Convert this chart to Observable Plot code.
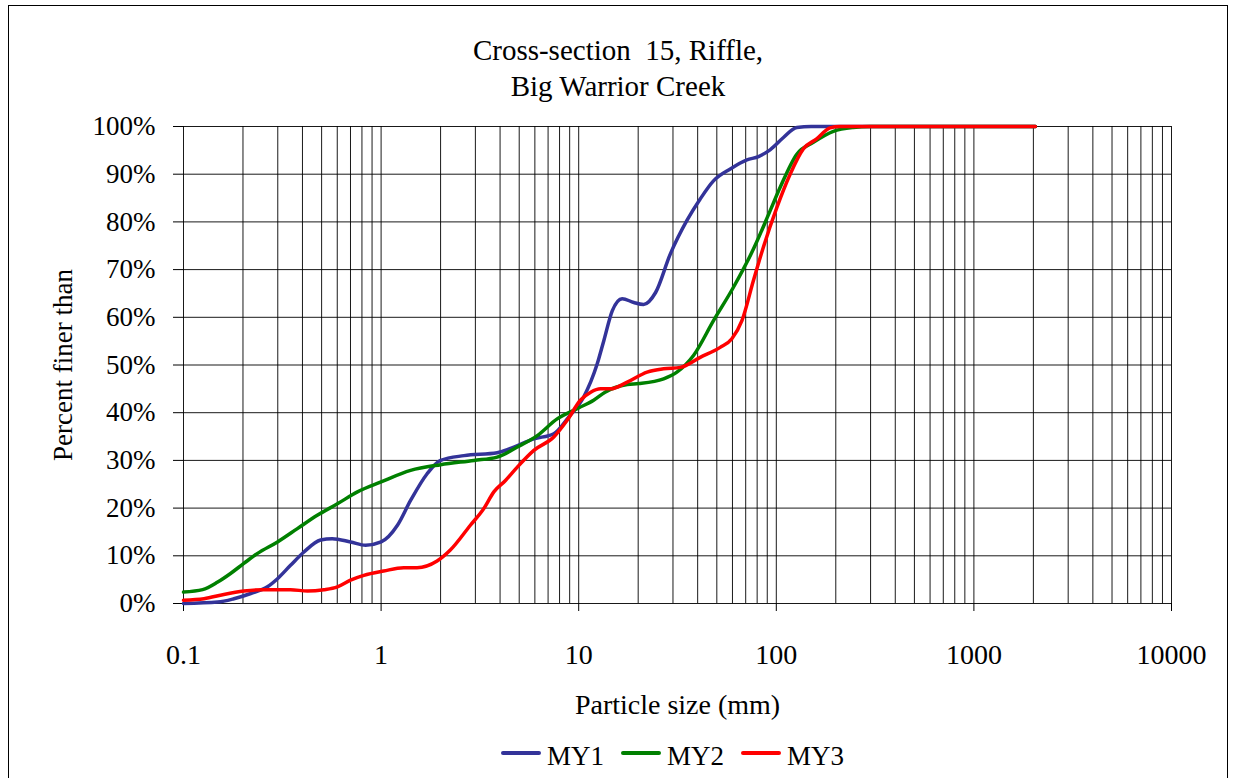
<!DOCTYPE html>
<html><head><meta charset="utf-8">
<script src="https://cdn.jsdelivr.net/npm/d3@7"></script>
<script src="https://cdn.jsdelivr.net/npm/@observablehq/plot@0.6"></script>
<style>
body{margin:0;background:#fff;font-family:"Liberation Serif","Times New Roman",serif;}
#wrap{position:relative;width:1236px;height:778px;overflow:hidden;background:#fff}
#frame{position:absolute;left:8px;top:5px;width:1220px;height:800px;border:1px solid #000;box-sizing:border-box}
#title{position:absolute;left:0;top:32px;width:1236px;text-align:center;font-size:29px;line-height:36px;color:#000}
#chart{position:absolute;left:0;top:100px}
#legend{position:absolute;left:501px;top:736px;display:flex;align-items:center;font-size:27px;height:40px;color:#000}
.item{display:flex;align-items:center;margin-right:17px}
.sw{width:40px;height:4px;margin-right:6px;border-radius:2px;position:relative;top:-3px}
</style></head><body>
<div id="wrap"><div id="frame"></div><div id="title">Cross-section&nbsp; 15, Riffle,<br>Big Warrior Creek</div><div id="chart"></div><div id="legend"></div></div>
<script>
const seriesNames = ["MY1", "MY2", "MY3"];
const seriesColors = ["#333399", "#008000", "#ff0000"];

const my1Size = [0.1, 0.149, 0.18, 0.219, 0.266, 0.299, 0.348, 0.407, 0.494, 0.566, 0.701, 0.835, 1.0, 1.21, 1.41, 1.71, 2.0, 2.63, 3.87, 4.52, 5.93, 7.48, 8.9, 10.6, 12.4, 13.4, 14.8, 16.6, 19.0, 21.3, 24.5, 29.1, 35.3, 41.2, 48.1, 58.5, 71, 81.3, 93, 108.7, 127, 150, 2048];
const my1Pct  = [0, 0.3, 1.0, 2.1, 3.5, 5.2, 8.0, 10.8, 13.3, 13.6, 12.9, 12.2, 12.9, 16.4, 21.6, 27.2, 30.0, 31.0, 31.6, 32.5, 34.5, 35.6, 39.1, 43.3, 50.2, 55.1, 61.4, 63.9, 63.1, 62.7, 65.2, 73.3, 80.3, 84.8, 88.6, 91.1, 93.0, 93.7, 95.1, 97.7, 99.8, 100, 100];

const my2Size = [0.1, 0.125, 0.149, 0.173, 0.202, 0.237, 0.299, 0.377, 0.475, 0.601, 0.759, 1.0, 1.41, 2.0, 2.95, 3.87, 4.89, 6.17, 7.78, 10, 11.9, 13.6, 17.6, 20.1, 26.9, 31.4, 38.1, 48.1, 60.7, 76.6, 93, 104.5, 127, 154, 194.5, 245, 300, 2048];
const my2Pct  = [2.4, 2.9, 4.5, 6.3, 8.4, 10.5, 12.9, 15.7, 18.5, 20.9, 23.4, 25.5, 27.9, 29.1, 30.0, 30.7, 32.8, 35.2, 38.7, 41.0, 42.6, 44.3, 45.9, 46.1, 47.1, 48.5, 52.0, 59.3, 66.3, 74.3, 82.3, 87.2, 94.2, 96.7, 99.0, 99.8, 100, 100];

const my3Size = [0.1, 0.127, 0.16, 0.202, 0.255, 0.348, 0.424, 0.514, 0.601, 0.7, 0.818, 1.03, 1.30, 1.52, 1.92, 2.24, 2.83, 3.31, 3.72, 4.26, 4.89, 5.93, 7.48, 8.74, 10.2, 11.5, 12.9, 14.5, 17.6, 22.2, 26.9, 32.7, 41.2, 52, 59.6, 67, 76.6, 86, 100.6, 117.5, 137, 160, 187, 210, 2048];
const my3Pct  = [0.7, 1.0, 1.9, 2.6, 2.9, 2.9, 2.6, 2.9, 3.5, 4.9, 5.9, 6.8, 7.5, 7.5, 8.9, 11.2, 16.4, 19.9, 23.4, 25.8, 28.6, 32.1, 34.9, 38.4, 42.6, 44.3, 45.0, 45.0, 46.4, 48.5, 49.2, 49.5, 51.6, 53.7, 55.5, 59.3, 67.7, 74.7, 83.0, 90.0, 95.3, 97.4, 99.7, 100, 100];

const xTickValues = [0.1, 1, 10, 100, 1000, 10000];
const xTickLabels = ["0.1", "1", "10", "100", "1000", "10000"];
const yTickValues = [0, 10, 20, 30, 40, 50, 60, 70, 80, 90, 100];

const xGrid = [];
for (let e = -1; e <= 3; e++) for (let k = 1; k <= 9; k++) xGrid.push(+(k * Math.pow(10, e)).toPrecision(3));
xGrid.push(10000);

const rows = [];
[[my1Size, my1Pct], [my2Size, my2Pct], [my3Size, my3Pct]].forEach(([s, p], i) => {
  s.forEach((v, j) => rows.push({series: seriesNames[i], size: v, pct: p[j]}));
});

const chart = Plot.plot({
  width: 1236, height: 625,
  marginTop: 26, marginBottom: 122, marginLeft: 183, marginRight: 65,
  style: {fontFamily: "'Liberation Serif','Times New Roman',serif", fontSize: "28px", color: "#000", background: "transparent"},
  x: {type: "log", domain: [0.1, 10000]},
  y: {domain: [0, 100]},
  color: {domain: seriesNames, range: seriesColors},
  marks: [
    Plot.gridX(xGrid, {stroke: "#000", strokeOpacity: 0.9, strokeWidth: 1}),
    Plot.gridY(yTickValues, {stroke: "#000", strokeOpacity: 0.9, strokeWidth: 1}),
    Plot.axisX(xTickValues, {tickSize: 8, tickPadding: 33, tickFormat: (d) => xTickLabels[xTickValues.indexOf(d)], label: "Particle size (mm)", labelAnchor: "center", labelArrow: "none", labelOffset: 110, fontSize: 28}),
    Plot.axisY(yTickValues, {tickSize: 10, tickPadding: 18, tickFormat: d => d + "%", label: "Percent finer than", labelAnchor: "center", labelArrow: "none", labelOffset: 131, fontSize: 27}),
    Plot.line(rows, {x: "size", y: "pct", z: "series", stroke: "series", strokeWidth: 3.5, curve: "monotone-x"})
  ]
});
document.getElementById("chart").appendChild(chart);

const legend = document.getElementById("legend");
seriesNames.forEach((n, i) => {
  const it = document.createElement("div");
  it.className = "item";
  const sw = document.createElement("span");
  sw.className = "sw";
  sw.style.background = seriesColors[i];
  const tx = document.createElement("span");
  tx.textContent = n;
  it.appendChild(sw); it.appendChild(tx);
  legend.appendChild(it);
});
</script>
</body></html>
